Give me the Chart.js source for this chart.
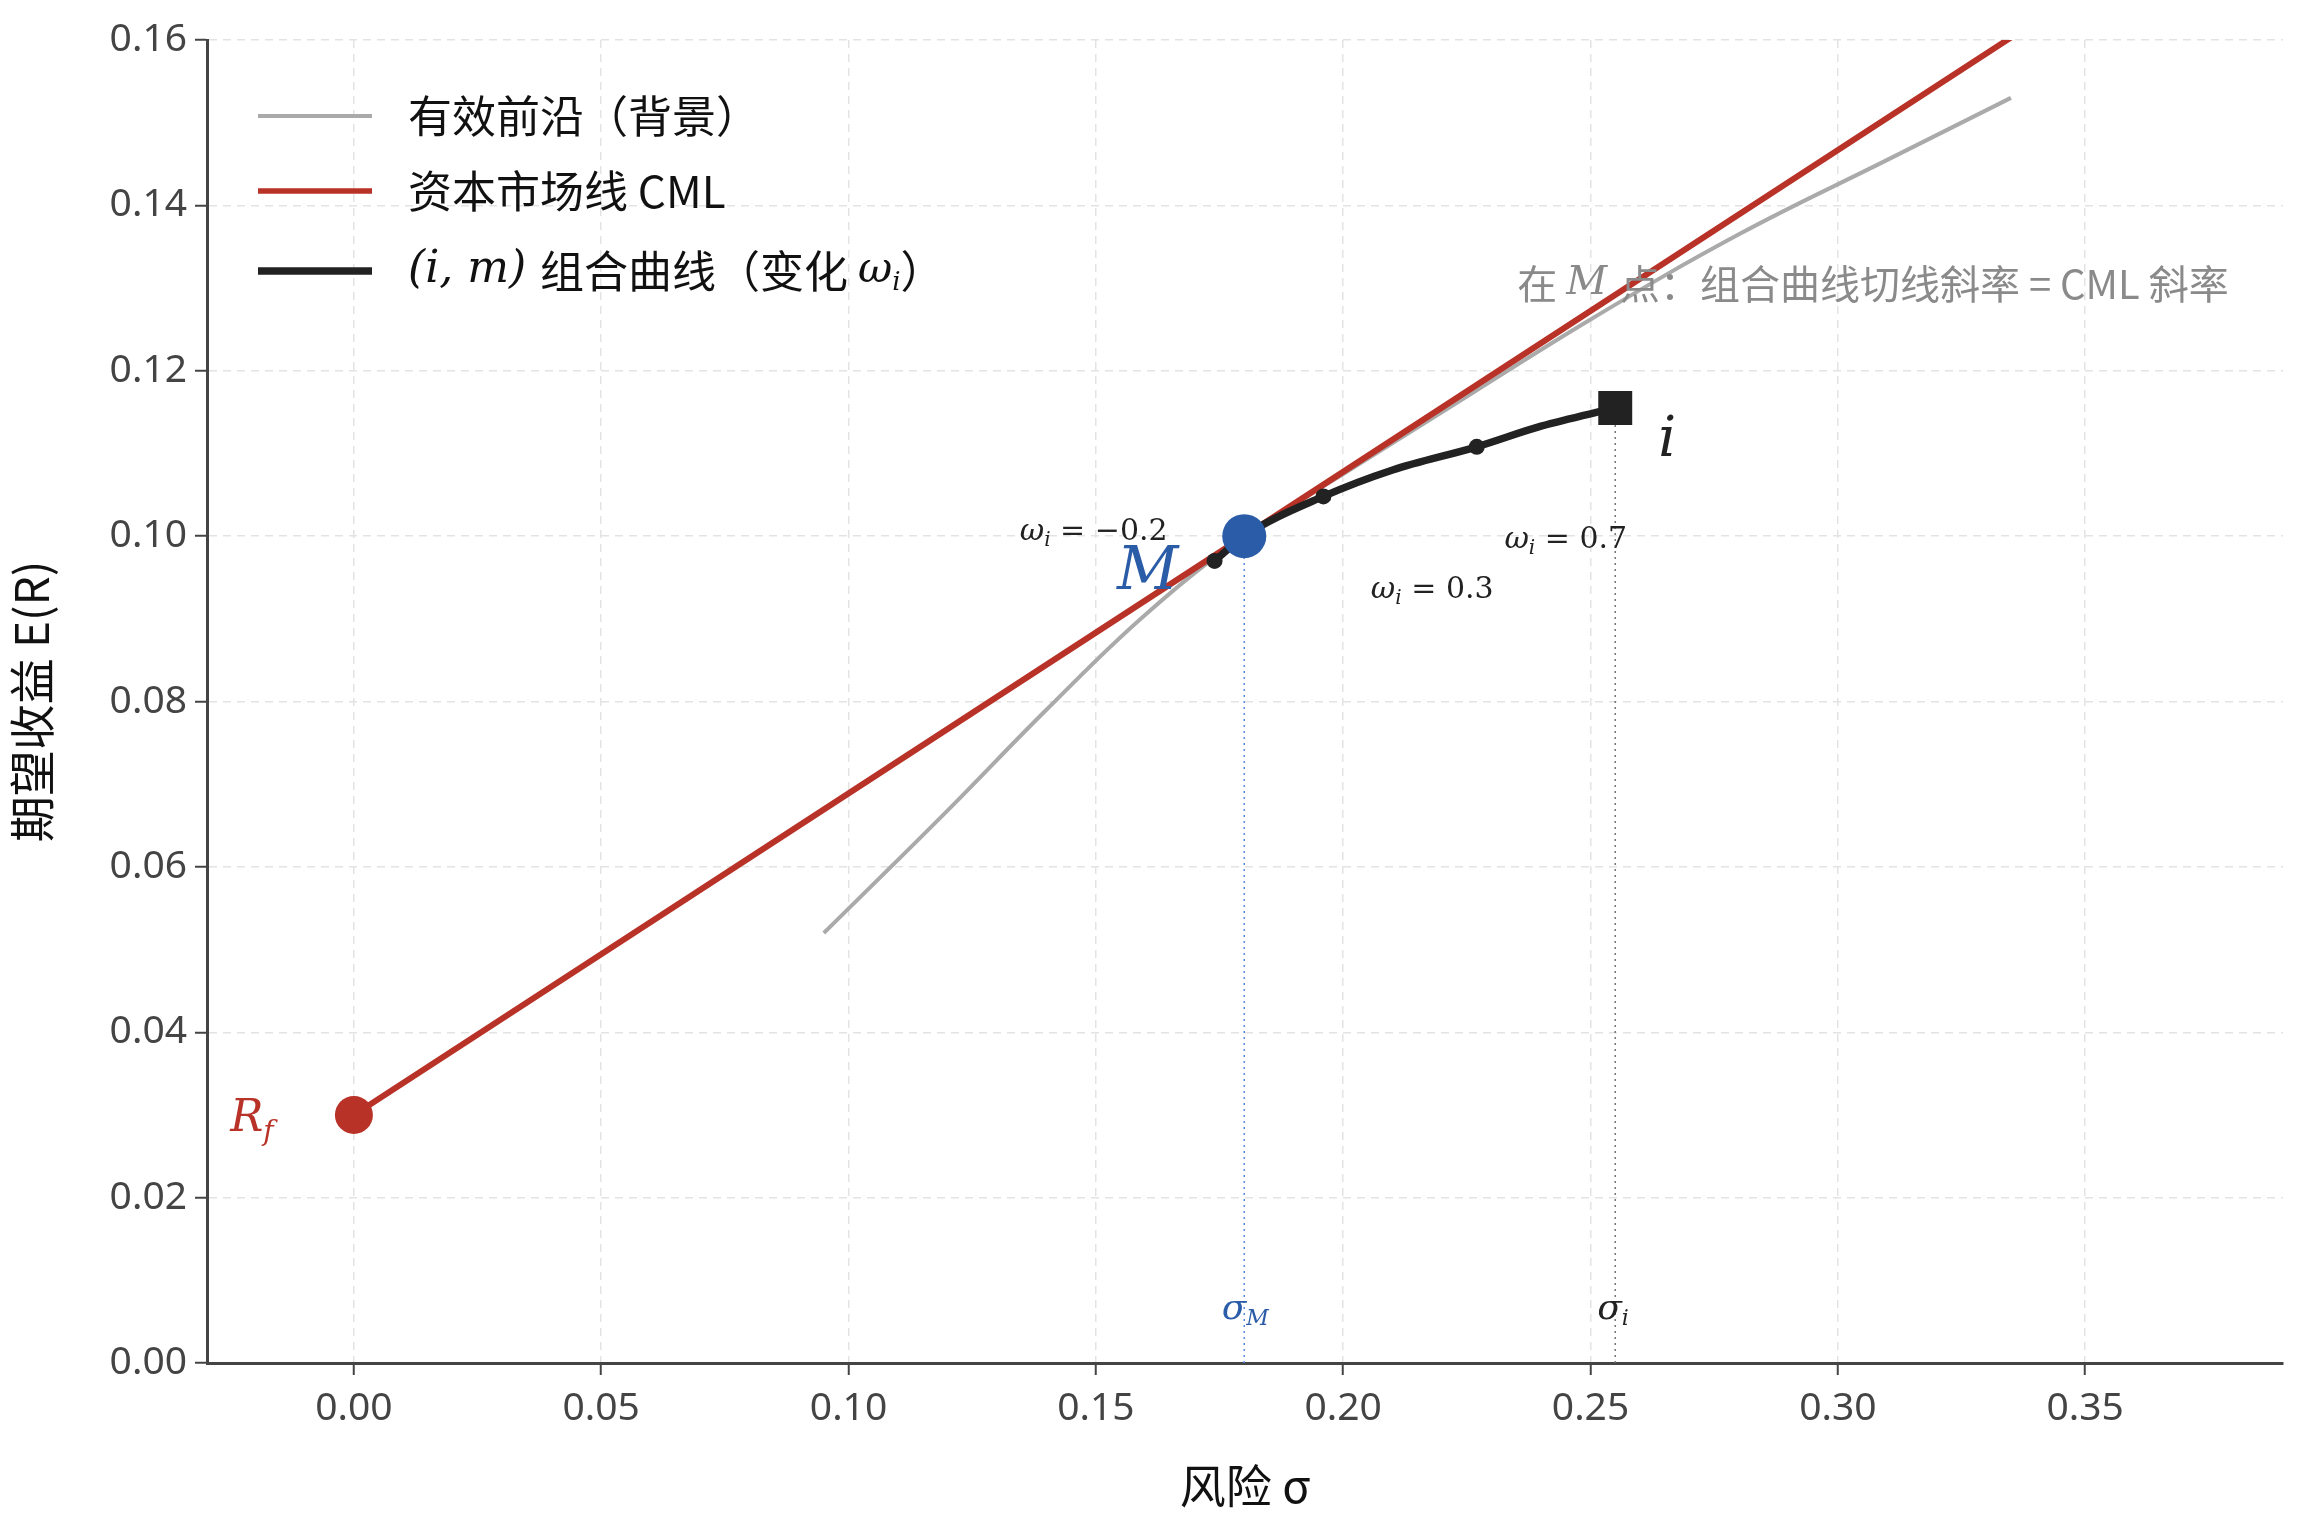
<!DOCTYPE html>
<html><head><meta charset="utf-8">
<script src="https://cdn.jsdelivr.net/npm/chart.js@4"></script>
<style>html,body{margin:0;padding:0;background:#fff}</style>
</head><body>
<canvas id="c" width="2324" height="1517" style="width:2324px;height:1517px"></canvas>
<script>
const xTicks=[0,0.05,0.10,0.15,0.20,0.25,0.30,0.35];
const yTicks=[0,0.02,0.04,0.06,0.08,0.10,0.12,0.14,0.16];
const frontierX=[0.095,0.12,0.14,0.16,0.18,0.20,0.22,0.25,0.28,0.31,0.335];
const frontierY=[0.052,0.0668,0.079,0.0905,0.100,0.1075,0.1150,0.1262,0.1365,0.1455,0.153];
const cmlX=[0,0.18,0.335];
const cmlY=[0.03,0.10,0.1603];
const comboX=[0.174,0.18,0.196,0.21,0.227,0.24,0.255];
const comboY=[0.097,0.100,0.1048,0.108,0.1108,0.1133,0.1155];
const markX=[0.174,0.196,0.227];
const markY=[0.097,0.1048,0.1108];
const M=[0.18,0.10], I=[0.255,0.1155], RF=[0,0.03];
const pts=(xs,ys)=>xs.map((x,k)=>({x,y:ys[k]}));
const CJK='"Noto Sans CJK SC","Noto Sans",sans-serif';
const SER='"DejaVu Serif",serif';

const deco={id:'deco',
 beforeDatasetsDraw(ch){const c=ch.ctx,x=ch.scales.x,y=ch.scales.y;
  c.save();c.lineWidth=1.5;c.setLineDash([2,4]);
  c.strokeStyle='#5b8be0';c.beginPath();c.moveTo(x.getPixelForValue(M[0]),y.getPixelForValue(0));c.lineTo(x.getPixelForValue(M[0]),y.getPixelForValue(M[1]));c.stroke();
  c.strokeStyle='#777';c.beginPath();c.moveTo(x.getPixelForValue(I[0]),y.getPixelForValue(0));c.lineTo(x.getPixelForValue(I[0]),y.getPixelForValue(I[1]));c.stroke();
  c.restore();},
 afterDraw(ch){const c=ch.ctx,x=ch.scales.x,y=ch.scales.y;
  const P=(a,b)=>[x.getPixelForValue(a),y.getPixelForValue(b)];
  c.save();c.textBaseline='middle';
  const t=(s,a,b,font,col,al)=>{const p=P(a,b);c.font=font;c.fillStyle=col;c.textAlign=al||'center';c.fillText(s,p[0],p[1]);};
  const wi=(val,a,b,al)=>{
    c.font='italic 30px '+SER;const w1=c.measureText('ω').width;
    c.font='italic 20px '+SER;const w2=c.measureText('i').width;
    c.font='30px '+SER;const rest=' = '+val;const w3=c.measureText(rest).width;
    const tot=w1+w2+w3;let p=P(a,b);let sx=al==='right'?p[0]-tot:p[0]-tot/2;
    c.textAlign='left';c.fillStyle='#222';
    c.font='italic 30px '+SER;c.fillText('ω',sx,p[1]);
    c.font='italic 20px '+SER;c.fillText('i',sx+w1,p[1]+9);
    c.font='30px '+SER;c.fillText(rest,sx+w1+w2,p[1]);};
  wi('−0.2',0.1645,0.1005,'right');
  wi('0.3',0.218,0.0935);
  wi('0.7',0.245,0.0995);
  t('M',0.1605,0.0955,'italic 60px '+SER,'#2b5ca8');
  t('i',0.2655,0.1115,'italic 56px '+SER,'#222');
  let p=P(-0.0175,0.0295);c.fillStyle='#b83228';c.textAlign='right';c.font='italic 44px '+SER;c.fillText('R',p[0]-4,p[1]);
  c.font='italic 28px '+SER;c.textAlign='left';c.fillText('f',p[0]-4,p[1]+14);
  p=P(0.18,0.0065);c.fillStyle='#2b5ca8';c.font='italic 36px '+SER;c.textAlign='right';c.fillText('σ',p[0]+2,p[1]);
  c.font='italic 22px '+SER;c.textAlign='left';c.fillText('M',p[0]+2,p[1]+10);
  p=P(0.2555,0.0065);c.fillStyle='#222';c.font='italic 36px '+SER;c.textAlign='right';c.fillText('σ',p[0]+4,p[1]);
  c.font='italic 22px '+SER;c.textAlign='left';c.fillText('i',p[0]+4,p[1]+10);
  p=P(0.2352,0.1305);c.fillStyle='#8a8a8a';c.textAlign='left';c.font='40px '+CJK;
  let s1='在 ';c.fillText(s1,p[0],p[1]);let ox=p[0]+c.measureText(s1).width;
  c.font='italic 40px '+SER;c.fillText('M',ox,p[1]);ox+=c.measureText('M ').width;
  c.font='40px '+CJK;c.fillText('点：组合曲线切线斜率 = CML 斜率',ox,p[1]);
  const L=[['#aaaaaa',4,'有效前沿（背景）'],['#b83228',5.5,'资本市场线 CML'],['#222222',7.5,null]];
  const rows=[116,191,271];
  L.forEach((r,k)=>{c.strokeStyle=r[0];c.lineWidth=r[1];c.setLineDash([]);c.beginPath();c.moveTo(258,rows[k]);c.lineTo(372,rows[k]);c.stroke();
   c.fillStyle='#111';c.textAlign='left';
   if(r[2]){c.font='44px '+CJK;c.fillText(r[2],408,rows[k]);}
   else{let ox=408;c.font='italic 44px '+SER;const s='(i, m) ';c.fillText(s,ox,rows[k]);ox+=c.measureText(s).width;
    c.font='44px '+CJK;const s2='组合曲线（变化 ';c.fillText(s2,ox,rows[k]);ox+=c.measureText(s2).width;
    c.font='italic 42px '+SER;c.fillText('ω',ox,rows[k]);ox+=c.measureText('ω').width;
    c.font='italic 26px '+SER;c.fillText('i',ox,rows[k]+12);ox+=c.measureText('i').width;
    c.font='44px '+CJK;c.fillText('）',ox,rows[k]);}
  });
  c.restore();}
};

new Chart(document.getElementById('c'),{
 type:'scatter',
 data:{datasets:[
  {data:pts(frontierX,frontierY),showLine:true,borderColor:'#aaaaaa',borderWidth:4,pointRadius:0,tension:0.4,order:5},
  {data:pts(cmlX,cmlY),showLine:true,borderColor:'#b83228',borderWidth:6,pointRadius:0,order:4},
  {data:pts(comboX,comboY),showLine:true,borderColor:'#222',borderWidth:7.5,pointRadius:0,tension:0.4,cubicInterpolationMode:'monotone',order:3},
  {data:pts(markX,markY),showLine:false,backgroundColor:'#222',borderWidth:0,pointRadius:8,order:2},
  {data:[{x:M[0],y:M[1]}],backgroundColor:'#2b5ca8',borderWidth:0,pointRadius:22,order:1},
  {data:[{x:I[0],y:I[1]}],backgroundColor:'#222',borderWidth:0,pointStyle:'rect',pointRadius:24,order:1},
  {data:[{x:RF[0],y:RF[1]}],backgroundColor:'#b83228',borderWidth:0,pointRadius:19,order:1}
 ]},
 options:{responsive:false,animation:false,devicePixelRatio:1,
  layout:{padding:{top:40,right:41,left:0,bottom:0}},
  plugins:{legend:{display:false},tooltip:{enabled:false}},
  scales:{
   x:{type:'linear',min:-0.0297,max:0.390,
    afterBuildTicks:s=>{s.ticks=xTicks.map(v=>({value:v}));},
    afterFit:s=>{s.height=154;},
    ticks:{callback:v=>v.toFixed(2),color:'#444',font:{size:39,family:'"Noto Sans",sans-serif'},padding:10},
    grid:{color:'#e3e3e3',lineWidth:1.5,tickColor:'#444',tickLength:12,tickWidth:2},
    border:{display:true,color:'#444',width:3,dash:[8,6]},
    title:{display:true,text:'风险 σ',color:'#111',font:{size:46,family:CJK},padding:{top:0}}},
   y:{type:'linear',min:0,max:0.16,
    afterBuildTicks:s=>{s.ticks=yTicks.map(v=>({value:v}));},
    afterFit:s=>{s.width=207;},
    ticks:{callback:v=>v.toFixed(2),color:'#444',font:{size:39,family:'"Noto Sans",sans-serif'},padding:8},
    grid:{color:'#e3e3e3',lineWidth:1.5,tickColor:'#444',tickLength:12,tickWidth:2},
    border:{display:true,color:'#444',width:3,dash:[8,6]},
    title:{display:true,text:'期望收益 E(R)',color:'#111',font:{size:46,family:CJK},padding:{bottom:4}}}
  }},
 plugins:[deco]
});
</script>
</body></html>
